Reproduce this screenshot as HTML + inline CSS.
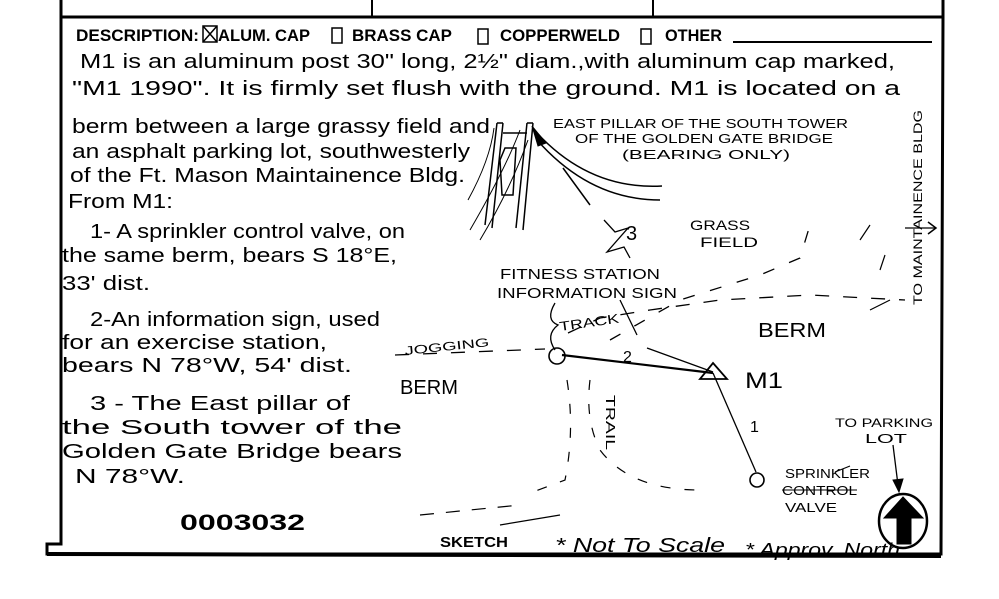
<!DOCTYPE html>
<html><head><meta charset="utf-8"><style>
html,body{margin:0;padding:0;background:#fff;width:999px;height:599px;overflow:hidden}
svg{display:block}
.h{font-family:"Liberation Sans",sans-serif;fill:#000}
.c{font-family:"Liberation Sans Narrow","Liberation Sans",sans-serif;fill:#000}
</style></head><body>
<svg width="999" height="599" viewBox="0 0 999 599" xmlns="http://www.w3.org/2000/svg">
<g stroke="#000" fill="none">
<line x1="61" y1="0" x2="61" y2="18" stroke-width="3"/>
<line x1="372" y1="0" x2="372" y2="16" stroke-width="2"/>
<line x1="653" y1="0" x2="653" y2="16" stroke-width="2"/>
<line x1="943" y1="0" x2="943" y2="18" stroke-width="3"/>
<line x1="60" y1="17" x2="944" y2="17" stroke-width="3"/>
<path d="M61 17 V544 H47 V554 H941 L943 17" stroke-width="3"/>
<line x1="47" y1="554" x2="941" y2="556" stroke-width="4"/>
<line x1="733" y1="42" x2="932" y2="42" stroke-width="2"/>
<rect x="203" y="26" width="14" height="16" stroke-width="1.5"/>
<path d="M203 26 L217 42 M217 26 L203 42" stroke-width="1.5"/>
<rect x="332" y="28" width="10" height="15" stroke-width="1.5"/>
<rect x="478" y="29" width="10" height="15" stroke-width="1.5"/>
<rect x="641" y="29" width="10" height="15" stroke-width="1.5"/>
<path d="M497 123 L485 225 M503 123 L492 228 M497 123 L503 123 M503 133 L527 133 M533 123 L523 230 M527 123 L516 228 M527 123 L533 123" stroke-width="1.5"/>
<path d="M505 148 L516 148 L513 195 L502 195 L500 160 Z" stroke-width="1.5"/>
<path d="M470 230 Q505 170 520 130 M480 240 Q510 190 528 140 M468 200 Q490 160 494 128" stroke-width="1"/>
<path d="M537 133 Q590 190 662 186 M537 140 Q590 200 660 200 M563 168 L590 205" stroke-width="1.5"/>
<path d="M532 126 L546 143 L538 146 Z" fill="#000" stroke-width="1"/>
<path d="M604 220 L615 232 L628 228 L607 252 L624 247 L630 258" stroke-width="1.3"/>
<path d="M620 300 L637 335 M647 348 L713 372" stroke-width="1.3"/>
<line x1="562" y1="355" x2="713" y2="373" stroke-width="2.2"/>
<line x1="713" y1="373" x2="756" y2="472" stroke-width="1.3"/>
<circle cx="557" cy="356" r="8" stroke-width="1.6"/>
<circle cx="757" cy="480" r="7" stroke-width="1.6"/>
<path d="M713 363 L727 379 L700 379 Z" stroke-width="1.8"/>
<path d="M555 303 Q545 320 558 325 Q545 335 555 350" stroke-width="1.3"/>
<path d="M395 355 L545 349 M568 333 L600 318 L650 310 L720 300 L810 295 L905 300" stroke-width="1.3" stroke-dasharray="14 14"/>
<path d="M610 340 L680 300 L760 275 L800 258 L810 225" stroke-width="1.3" stroke-dasharray="12 16"/>
<path d="M567 380 Q575 430 565 480 L525 495 M590 380 Q585 420 600 450 Q630 490 700 490" stroke-width="1.2" stroke-dasharray="10 14"/>
<path d="M420 515 L520 505" stroke-width="1.2" stroke-dasharray="14 12"/>
<path d="M500 525 L560 515 M835 472 L850 466" stroke-width="1.2"/>
<path d="M880 270 L885 255 M870 310 L890 300 M860 240 L870 225 M905 228 L935 228" stroke-width="1.2"/>
<path d="M928 222 L936 228 L928 234" stroke-width="1.5"/>
<path d="M893 445 L898 485" stroke-width="1.3"/>
<path d="M893 480 L899 492 L903 479 Z" fill="#000"/>
<ellipse cx="903" cy="521" rx="24" ry="27" stroke-width="2.5"/>
<path d="M903 497 L923 518 L911 518 L911 544 L897 544 L897 518 L884 518 Z" fill="#000"/>
</g>
<g class="c" font-size="17" font-weight="bold">
<text x="76" y="41" textLength="123" lengthAdjust="spacingAndGlyphs">DESCRIPTION:</text>
<text x="218" y="41" textLength="92" lengthAdjust="spacingAndGlyphs">ALUM. CAP</text>
<text x="352" y="41" textLength="100" lengthAdjust="spacingAndGlyphs">BRASS CAP</text>
<text x="500" y="41" textLength="120" lengthAdjust="spacingAndGlyphs">COPPERWELD</text>
<text x="665" y="41" textLength="57" lengthAdjust="spacingAndGlyphs">OTHER</text>
</g>
<g class="h" font-size="20">
<text x="80" y="68" textLength="815" lengthAdjust="spacingAndGlyphs">M1 is an aluminum post 30" long, 2½" diam.,with aluminum cap marked,</text>
<text x="72" y="95" textLength="828" lengthAdjust="spacingAndGlyphs">"M1 1990". It is firmly set flush with the ground. M1 is located on a</text>
<text x="72" y="133" textLength="418" lengthAdjust="spacingAndGlyphs">berm between a large grassy field and</text>
<text x="72" y="158" textLength="398" lengthAdjust="spacingAndGlyphs">an asphalt parking lot, southwesterly</text>
<text x="70" y="182" textLength="395" lengthAdjust="spacingAndGlyphs">of the Ft. Mason Maintainence Bldg.</text>
<text x="68" y="208" textLength="105" lengthAdjust="spacingAndGlyphs">From M1:</text>
<text x="90" y="238" textLength="315" lengthAdjust="spacingAndGlyphs">1- A sprinkler control valve, on</text>
<text x="62" y="262" textLength="335" lengthAdjust="spacingAndGlyphs">the same berm, bears S 18°E,</text>
<text x="62" y="290" textLength="88" lengthAdjust="spacingAndGlyphs">33' dist.</text>
<text x="90" y="326" textLength="290" lengthAdjust="spacingAndGlyphs">2-An information sign, used</text>
<text x="62" y="349" textLength="265" lengthAdjust="spacingAndGlyphs">for an exercise station,</text>
<text x="62" y="372" textLength="290" lengthAdjust="spacingAndGlyphs">bears N 78°W, 54' dist.</text>
<text x="90" y="410" textLength="260" lengthAdjust="spacingAndGlyphs">3 - The East pillar of</text>
<text x="62" y="434" textLength="340" lengthAdjust="spacingAndGlyphs">the South tower of the</text>
<text x="62" y="458" textLength="340" lengthAdjust="spacingAndGlyphs">Golden Gate Bridge bears</text>
<text x="75" y="483" textLength="110" lengthAdjust="spacingAndGlyphs">N 78°W.</text>
</g>
<text class="h" x="180" y="530" font-size="22" font-weight="bold" textLength="125" lengthAdjust="spacingAndGlyphs">0003032</text>
<text class="h" x="440" y="547" font-size="15" font-weight="bold" textLength="68" lengthAdjust="spacingAndGlyphs">SKETCH</text>
<text class="h" x="555" y="552" font-size="20" font-style="italic" textLength="170" lengthAdjust="spacingAndGlyphs">* Not To Scale</text>
<text class="h" x="745" y="556" font-size="18" font-style="italic" textLength="155" lengthAdjust="spacingAndGlyphs">* Approv. North</text>
<g class="h" font-size="13">
<text x="553" y="128" textLength="295" lengthAdjust="spacingAndGlyphs">EAST PILLAR OF THE SOUTH TOWER</text>
<text x="575" y="143" textLength="258" lengthAdjust="spacingAndGlyphs">OF THE GOLDEN GATE BRIDGE</text>
<text x="622" y="159" textLength="168" lengthAdjust="spacingAndGlyphs">(BEARING ONLY)</text>
<text x="690" y="230" font-size="14" textLength="60" lengthAdjust="spacingAndGlyphs">GRASS</text>
<text x="700" y="247" font-size="14" textLength="58" lengthAdjust="spacingAndGlyphs">FIELD</text>
<text x="500" y="279" font-size="15" textLength="160" lengthAdjust="spacingAndGlyphs">FITNESS STATION</text>
<text x="497" y="298" font-size="15" textLength="180" lengthAdjust="spacingAndGlyphs">INFORMATION SIGN</text>
<text x="560" y="331" transform="rotate(-8 560 331)" textLength="60" lengthAdjust="spacingAndGlyphs">TRACK</text>
<text x="405" y="355" font-size="12" transform="rotate(-6 405 355)" textLength="85" lengthAdjust="spacingAndGlyphs">JOGGING</text>
<text x="400" y="394" font-size="20" textLength="58" lengthAdjust="spacingAndGlyphs">BERM</text>
<text x="758" y="337" font-size="20" textLength="68" lengthAdjust="spacingAndGlyphs">BERM</text>
<text x="623" y="362" font-size="16">2</text>
<text x="745" y="388" font-size="22" textLength="38" lengthAdjust="spacingAndGlyphs">M1</text>
<text x="750" y="432" font-size="16">1</text>
<text x="626" y="240" font-size="20">3</text>
<text x="606" y="395" transform="rotate(90 606 395)" textLength="55" lengthAdjust="spacingAndGlyphs">TRAIL</text>
<text x="785" y="478" textLength="85" lengthAdjust="spacingAndGlyphs">SPRINKLER</text>
<text x="782" y="495" textLength="75" lengthAdjust="spacingAndGlyphs">CONTROL</text>
<text x="785" y="512" textLength="52" lengthAdjust="spacingAndGlyphs">VALVE</text>
<text x="835" y="427" font-size="12" textLength="98" lengthAdjust="spacingAndGlyphs">TO  PARKING</text>
<text x="865" y="443" textLength="42" lengthAdjust="spacingAndGlyphs">LOT</text>
<text x="922" y="305" font-size="12" transform="rotate(-90 922 305)" textLength="195" lengthAdjust="spacingAndGlyphs">TO MAINTAINENCE BLDG</text>
</g>
<line x1="782" y1="490" x2="857" y2="490" stroke="#000" stroke-width="1"/>
</svg>
</body></html>
